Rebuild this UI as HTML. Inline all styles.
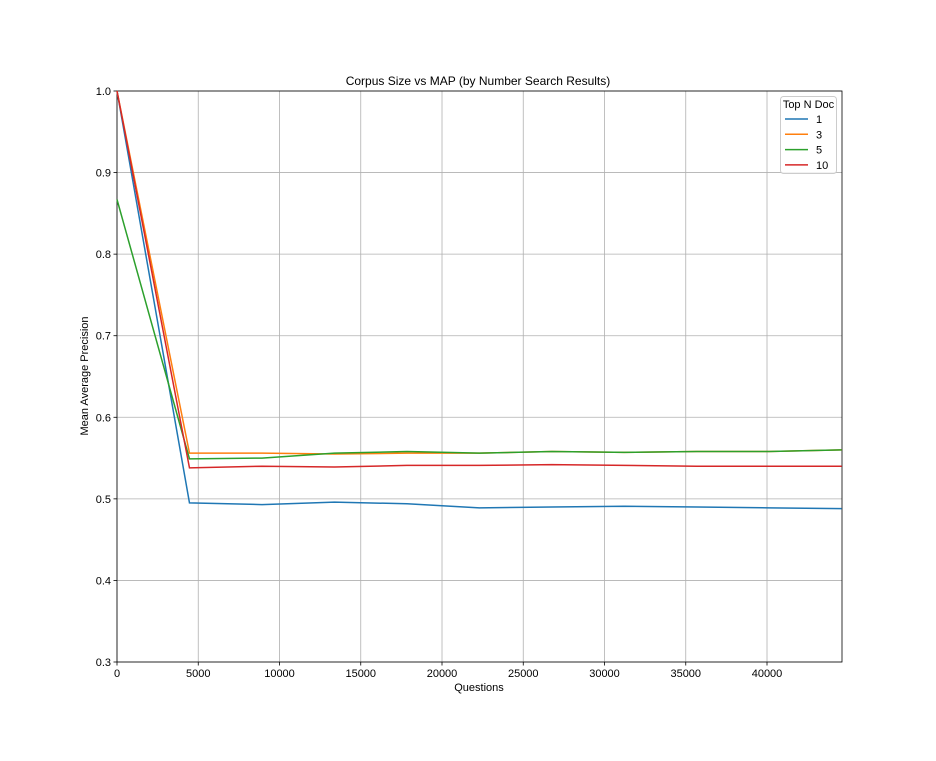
<!DOCTYPE html>
<html><head><meta charset="utf-8"><style>
body{margin:0;background:#fff;}
svg text{font-family:"Liberation Sans","DejaVu Sans",sans-serif;font-size:11px;fill:#000;}
</style></head><body>
<svg id="chart" width="936" height="756">
<rect width="936" height="756" fill="#fff"/>
<g id="grid"></g><g id="axes"></g><g id="series"></g><g id="legend"></g>
<text x="478" y="85" text-anchor="middle" style="font-size:12px">Corpus Size vs MAP (by Number Search Results)</text>
<text x="479" y="691" text-anchor="middle">Questions</text>
<text x="88" y="376" text-anchor="middle" transform="rotate(-90 88 376)">Mean Average Precision</text>
</svg>
<script>
const xValues=[0,4460,8920,13380,17840,22300,26760,31220,35680,40140,44600];
const seriesNames=["1","3","5","10"];
const s1=[1.0,0.495,0.493,0.496,0.494,0.489,0.490,0.491,0.490,0.489,0.488];
const s3=[1.0,0.556,0.556,0.555,0.556,0.556,0.558,0.557,0.558,0.558,0.560];
const s5=[0.867,0.549,0.550,0.556,0.558,0.556,0.558,0.557,0.558,0.558,0.560];
const s10=[1.0,0.538,0.540,0.539,0.541,0.541,0.542,0.541,0.540,0.540,0.540];
const xTicks=[0,5000,10000,15000,20000,25000,30000,35000,40000];
const yTicks=[0.3,0.4,0.5,0.6,0.7,0.8,0.9,1.0];
const colors=["#1f77b4","#ff7f0e","#2ca02c","#d62728"];
const L=117,R=842,T=91,B=662,XMAX=44615,YMIN=0.3,YMAX=1.0;
const xs=v=>L+(v/XMAX)*(R-L);
const ys=v=>B-(v-YMIN)/(YMAX-YMIN)*(B-T);
const NS="http://www.w3.org/2000/svg";
function mk(t,a,p){const e=document.createElementNS(NS,t);for(const k in a)e.setAttribute(k,a[k]);p.appendChild(e);return e;}
const grid=document.getElementById('grid'),axes=document.getElementById('axes'),ser=document.getElementById('series'),leg=document.getElementById('legend');
xTicks.forEach(v=>{const x=xs(v);
 const g=mk('line',{x1:x,x2:x,y1:T,y2:B,stroke:'#b0b0b0','stroke-width':0.8},grid);
 
 
 mk('line',{x1:x,x2:x,y1:B,y2:B+3.5,stroke:'#000','stroke-width':0.8},axes);
 const t=mk('text',{x:x,y:B+15,'text-anchor':'middle'},axes);t.textContent=v;
 
 });
yTicks.forEach(v=>{const y=ys(v);
 const g=mk('line',{x1:L,x2:R,y1:y,y2:y,stroke:'#b0b0b0','stroke-width':0.8},grid);
 
 
 mk('line',{x1:L-3.5,x2:L,y1:y,y2:y,stroke:'#000','stroke-width':0.8},axes);
 const t=mk('text',{x:L-6,y:y+4,'text-anchor':'end'},axes);t.textContent=v.toFixed(1);
 
 });
const frame=mk('rect',{x:L,y:T,width:R-L,height:B-T,fill:'none',stroke:'#000','stroke-width':0.8},axes);


[s1,s3,s5,s10].forEach((d,i)=>{
 const p=mk('polyline',{points:d.map((v,j)=>xs(xValues[j])+','+ys(v)).join(' '),fill:'none',stroke:colors[i],'stroke-width':1.5},ser);
 
 });
const lb=mk('rect',{x:780.5,y:96.5,width:56,height:77,rx:3,fill:'#fff','fill-opacity':0.8,stroke:'#ccc'},leg);


const lt=mk('text',{x:808.5,y:108,'text-anchor':'middle'},leg);lt.textContent='Top N Doc';


seriesNames.forEach((n,i)=>{const y=119+i*15.3;
 const g=mk('g',{},leg);
 
 
 mk('line',{x1:785,x2:808,y1:y,y2:y,stroke:colors[i],'stroke-width':1.5},g);
 const t=mk('text',{x:816,y:y+4},g);t.textContent=n;});
</script>
</body></html>
